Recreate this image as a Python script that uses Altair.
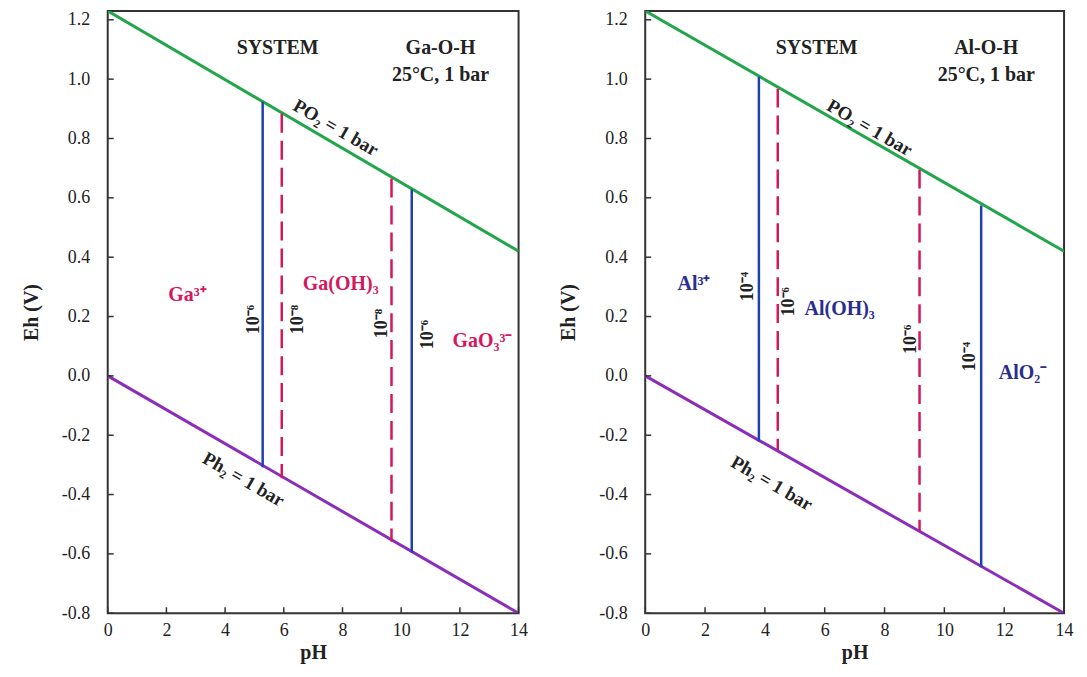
import altair as alt
import pandas as pd

# ---------------- data ----------------
ph_ticks = [0, 2, 4, 6, 8, 10, 12, 14]
eh_ticks = [-0.8, -0.6, -0.4, -0.2, 0.0, 0.2, 0.4, 0.6, 0.8, 1.0, 1.2]

line_ph = [0, 14]
o2_eh = [1.23, 0.42]
h2_eh = [0.0, -0.8]

# Ga-O-H boundaries
ga_ph = [5.28, 5.93, 9.67, 10.36]
ga_top = [0.924, 0.883, 0.665, 0.628]
ga_bot = [-0.308, -0.345, -0.558, -0.595]
ga_style = ["solid", "dashed", "dashed", "solid"]

# Al-O-H boundaries
al_ph = [3.80, 4.43, 9.17, 11.23]
al_top = [1.008, 0.968, 0.695, 0.574]
al_bot = [-0.221, -0.251, -0.524, -0.645]
al_style = ["solid", "dashed", "dashed", "solid"]

# labels: text, pH, Eh, kind
ga_lab_text = ["SYSTEM", "Ga-O-H", "25°C, 1 bar", "PO₂ = 1 bar", "Ph₂ = 1 bar",
               "Ga³⁺", "Ga(OH)₃", "GaO₃³⁻", "10⁻⁶", "10⁻⁸", "10⁻⁸", "10⁻⁶"]
ga_lab_ph = [5.79, 11.34, 11.34, 7.77, 4.63, 2.72, 7.94, 12.77, 4.97, 6.47, 9.33, 10.93]
ga_lab_eh = [1.106, 1.106, 1.015, 0.836, -0.349, 0.271, 0.308, 0.116, 0.19, 0.19, 0.176, 0.139]
ga_lab_kind = ["sys", "sys", "sys", "gas", "gas", "sp", "sp", "sp", "conc", "conc", "conc", "conc"]

al_lab_text = ["SYSTEM", "Al-O-H", "25°C, 1 bar", "PO₂ = 1 bar", "Ph₂ = 1 bar",
               "Al³⁺", "10⁻⁴", "10⁻⁶", "Al(OH)₃", "10⁻⁶", "10⁻⁴", "AlO₂⁻"]
al_lab_ph = [5.73, 11.4, 11.4, 7.5, 4.23, 1.63, 3.43, 4.8, 6.5, 8.9, 10.87, 12.63]
al_lab_eh = [1.106, 1.106, 1.015, 0.836, -0.362, 0.308, 0.301, 0.25, 0.224, 0.123, 0.065, 0.008]
al_lab_kind = ["sys", "sys", "sys", "gas", "gas", "sp", "conc", "conc", "sp", "conc", "conc", "sp"]

# ---------------- style ----------------
FONT = "Liberation Serif"
GREEN = "#22a64a"
PURPLE = "#8b2db9"
BLUE = "#1f3fb2"
RED = "#d5185e"
GA_COL = "#d5185e"
AL_COL = "#2b2d8c"
INK = "#222222"
H = 604

xs = alt.Scale(domain=[0, 14], nice=False, zero=False)
ys = alt.Scale(domain=[-0.8, 1.23], nice=False, zero=False)
xaxis = alt.Axis(title="pH", values=ph_ticks, ticks=False, domain=False, grid=False,
                 labelFlush=False, labelOverlap=False,
                 labelPadding=8, titlePadding=3, labelFont=FONT, labelFontSize=18,
                 labelColor=INK, titleFont=FONT, titleFontSize=20, titleFontWeight="bold",
                 titleColor=INK)
yaxis = alt.Axis(title="Eh (V)", values=eh_ticks, ticks=False, domain=False, grid=False,
                 labelFlush=False, labelOverlap=False,
                 labelExpr="replace(format(datum.value, '.1f'), '\u2212', '-')",
                 labelPadding=18, titlePadding=20, labelFont=FONT, labelFontSize=18,
                 labelColor=INK, titleFont=FONT, titleFontSize=20, titleFontWeight="bold",
                 titleColor=INK)


def X(f):
    return alt.X(f, type="quantitative", scale=xs, axis=xaxis)


def Y(f):
    return alt.Y(f, type="quantitative", scale=ys, axis=yaxis)


def panel(b_ph, b_top, b_bot, b_style, l_text, l_ph, l_eh, l_kind, sp_col, width):
    lines = pd.DataFrame({"ph": line_ph * 2, "eh": o2_eh + h2_eh,
                          "which": ["o2", "o2", "h2", "h2"]})
    o2 = alt.Chart(lines).transform_filter("datum.which == 'o2'").mark_line(
        color=GREEN, strokeWidth=3, clip=True).encode(x=X("ph"), y=Y("eh"))
    h2 = alt.Chart(lines).transform_filter("datum.which == 'h2'").mark_line(
        color=PURPLE, strokeWidth=3, clip=True).encode(x=X("ph"), y=Y("eh"))

    bounds = pd.DataFrame({"ph": b_ph, "top": b_top, "bot": b_bot, "style": b_style})
    solid = alt.Chart(bounds).transform_filter("datum.style == 'solid'").mark_rule(
        color=BLUE, strokeWidth=2.5).encode(x=X("ph"), y=Y("top"), y2="bot")
    dashed = alt.Chart(bounds).transform_filter("datum.style == 'dashed'").mark_rule(
        color=RED, strokeWidth=2.5, strokeDash=[19, 8]).encode(x=X("ph"), y=Y("top"), y2="bot")

    xt = alt.Chart(pd.DataFrame({"ph": ph_ticks})).mark_rule(
        color="#333", strokeWidth=1.5).encode(x=X("ph"), y=alt.value(H), y2=alt.value(H - 6))
    yt = alt.Chart(pd.DataFrame({"eh": eh_ticks})).mark_rule(
        color="#333", strokeWidth=1.5).encode(y=Y("eh"), x=alt.value(0), x2=alt.value(6))

    labs = pd.DataFrame({"text": l_text, "ph": l_ph, "eh": l_eh, "kind": l_kind})

    def txt(kind, color, size, angle):
        return alt.Chart(labs).transform_filter(f"datum.kind == '{kind}'").mark_text(
            font=FONT, fontWeight="bold", fontSize=size, color=color, angle=angle,
            align="center", baseline="middle").encode(x=X("ph"), y=Y("eh"), text="text:N")

    sys_t = txt("sys", INK, 20, 0)
    gas_t = txt("gas", INK, 19, 30)
    sp_t = txt("sp", sp_col, 20, 0)
    conc_t = txt("conc", INK, 18, 270)

    return alt.layer(o2, h2, solid, dashed, xt, yt, sys_t, gas_t, sp_t, conc_t).properties(
        width=width, height=H)


left = panel(ga_ph, ga_top, ga_bot, ga_style, ga_lab_text, ga_lab_ph, ga_lab_eh,
             ga_lab_kind, GA_COL, 412)
right = panel(al_ph, al_top, al_bot, al_style, al_lab_text, al_lab_ph, al_lab_eh,
              al_lab_kind, AL_COL, 420)

chart = alt.hconcat(left, right, spacing=29).properties(
    padding={"left": 12, "top": 0, "right": 5, "bottom": 5}
).configure_view(stroke="#333", strokeWidth=2)

chart.save("out.html", embed_options={"renderer": "svg", "actions": False})
